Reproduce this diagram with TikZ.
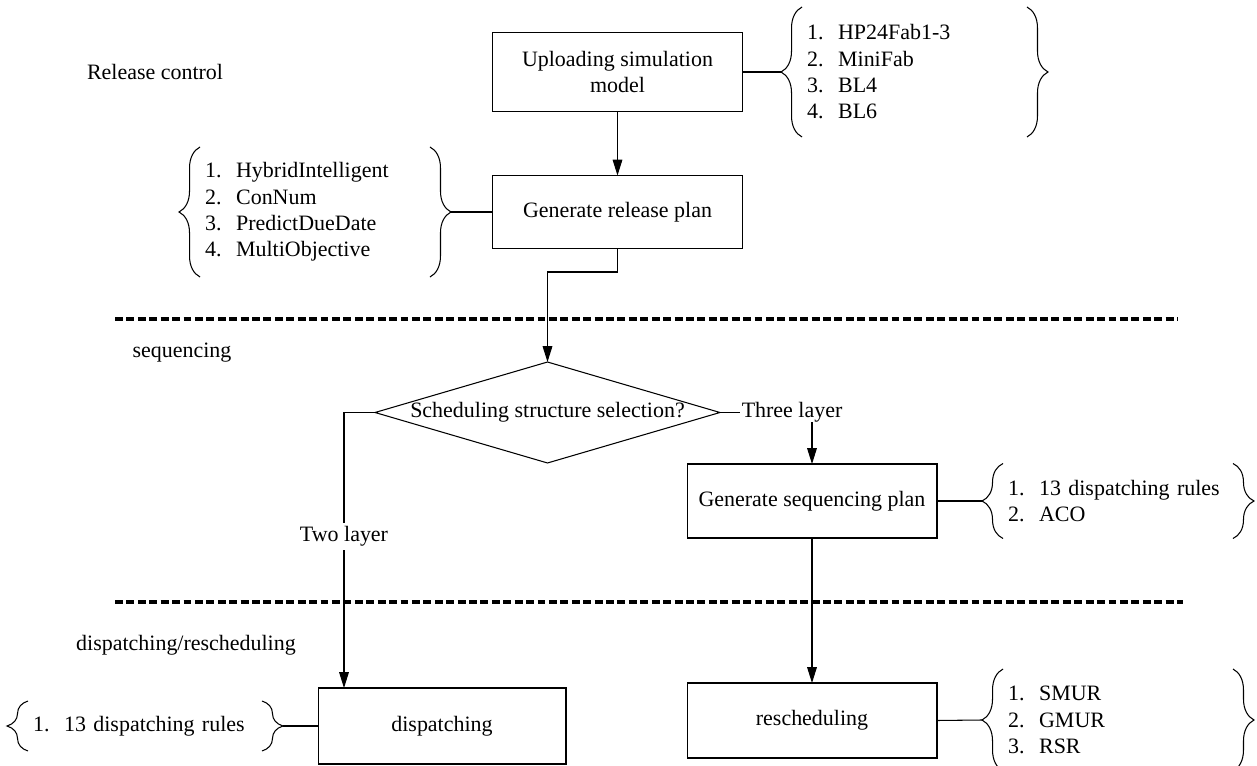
\documentclass[tikz,border=0pt]{standalone}
\usepackage{fontspec}
\setmainfont{Liberation Serif}
\usetikzlibrary{arrows.meta,shapes.geometric,decorations.pathreplacing}
\begin{document}
\begin{tikzpicture}[x=0.02cm, y=-0.02cm, line width=0.6pt,
    every node/.style={font=\fontsize{12.5pt}{15pt}\selectfont, inner sep=0pt, outer sep=0pt},
    box/.style={draw, minimum width=5cm, minimum height=1.5cm, align=center},
    choice/.style={draw, diamond, shape aspect=3.4, minimum width=6.9cm, minimum height=2.02cm},
    list/.style={inner xsep=0.1cm, align=left},
    brace/.style={decorate, decoration={brace, amplitude=0.42cm}},
    arrow/.style={-{Triangle[length=9pt, width=5.5pt]}},
    sepline/.style={line width=2pt, dash pattern=on 4.5pt off 2pt}]
    \useasboundingbox (0,0) rectangle (1257,766);

    % layer labels
    \node (relctl) at (155,72) {Release control};
    \node (seqlbl) at (182,353) {sequencing};
    \node (displbl) at (186,645) {dispatching/rescheduling};

    \draw[sepline] (115,319) -- (1178,319);
    \draw[sepline] (115,602) -- (1183,602);

    % steps
    \node[box, minimum height=1.58cm] (upload) at (617.5,72) {Uploading simulation\\model};
    \node[box, minimum height=1.46cm] (rel) at (617.5,212) {Generate release plan};
    \node[choice] (dia) at (547.5,412.5) {Scheduling structure selection?};
    \node[box, minimum height=1.48cm] (seq) at (812,501) {Generate sequencing plan};
    \node[box] (resc) at (812,720.5) {rescheduling};
    \node[box, minimum width=4.96cm, minimum height=1.52cm] (disp) at (442,726) {dispatching};

    % option lists
    \node[list, text width=4.3cm, minimum height=2.6cm] (ul) at (914.5,72) {1.~~HP24Fab1-3\\2.~~MiniFab\\3.~~BL4\\4.~~BL6};
    \node[list, text width=4.4cm, minimum height=2.6cm] (rl) at (315,212) {1.~~HybridIntelligent\\2.~~ConNum\\3.~~PredictDueDate\\4.~~MultiObjective};
    \node[list, text width=4.4cm, minimum height=1.5cm] (sl) at (1118,501) {1.~~13 dispatching rules\\2.~~ACO};
    \node[list, text width=4.4cm, minimum height=2.04cm] (cl) at (1118,720) {1.~~SMUR\\2.~~GMUR\\3.~~RSR};
    \node[list, text width=4.48cm, minimum height=1cm] (dl) at (145,726) {1.~~13 dispatching rules};

    \foreach \n in {ul,rl,sl,cl,dl} {
        \draw[brace] (\n.south west) -- (\n.north west);
        \draw[brace] (\n.north east) -- (\n.south east);
    }

    % connectors
    \draw[arrow] (upload) -- (rel);
    \draw (upload.east) -- ([xshift=-0.42cm]ul.west);
    \draw ([xshift=0.42cm]rl.east) -- (rel.west);
    \coordinate (relbend) at (547.5,272);
    \draw[arrow] (rel.south) |- (relbend) -- (dia.north);

    \coordinate (twobend) at (344,412.5);
    \draw[arrow] (dia.west) -- (twobend) -- (twobend |- disp.north)
        node[pos=0.45, fill=white, inner sep=2pt] (two) {Two layer};
    \node[anchor=west, inner xsep=1pt] (three) at (740,412.5) {Three layer};
    \draw (dia.east) -- (three.west);
    \draw[arrow] (three.south -| seq.north) -- (seq.north);

    \draw (seq.east) -- ([xshift=-0.42cm]sl.west);
    \draw[arrow] (seq) -- (resc);
    \draw (resc.east) -- ([xshift=-0.42cm]cl.west);
    \draw ([xshift=0.42cm]dl.east) -- (disp.west);
\end{tikzpicture}
\end{document}
